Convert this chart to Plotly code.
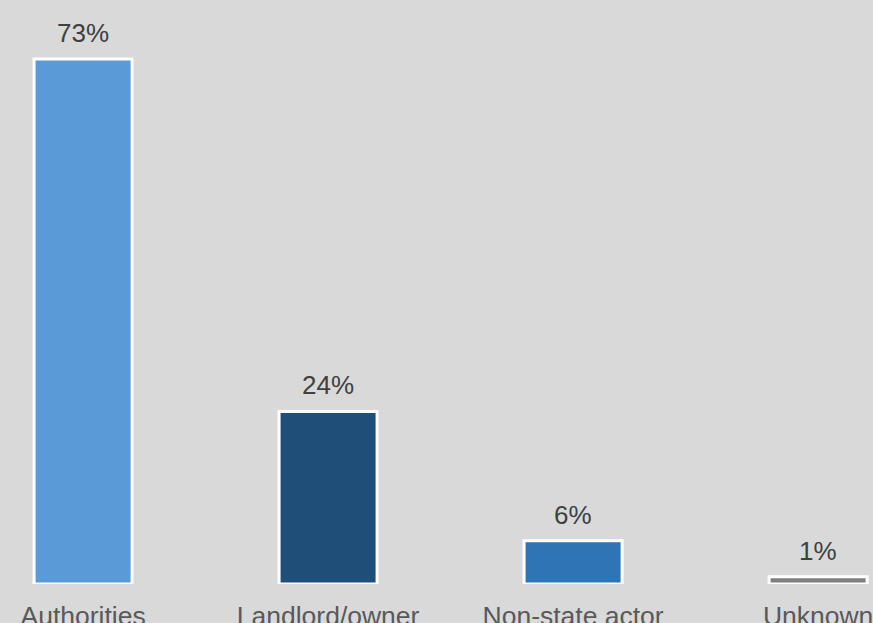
import plotly.graph_objects as go

categories = ["Authorities", "Landlord/owner", "Non-state actor", "Unknown"]
shares = [73, 24, 6, 1]
bar_colors = ["#5B9BD5", "#1F4E79", "#2E75B6", "#7F7F7F"]
value_labels = [f"{v}%" for v in shares]

fig = go.Figure(
    go.Bar(
        x=list(range(len(categories))),
        y=shares,
        width=0.4,
        marker=dict(color=bar_colors, line=dict(color="white", width=3)),
        hoverinfo="skip",
    )
)

for i, (v, lab) in enumerate(zip(shares, value_labels)):
    fig.add_annotation(
        x=i, y=v, text=lab, showarrow=False,
        yanchor="bottom", yshift=9,
        font=dict(family="Liberation Sans, Arial", size=26, color="#404040"),
    )

fig.update_layout(
    width=873, height=623,
    margin=dict(l=0, r=0, t=0, b=39),
    paper_bgcolor="#D9D9D9",
    plot_bgcolor="#D9D9D9",
    showlegend=False,
    bargap=0.6,
)
fig.update_xaxes(
    range=[-0.339, 3.224],
    tickmode="array",
    tickvals=list(range(len(categories))),
    ticktext=categories,
    tickfont=dict(family="Liberation Sans, Arial", size=26.5, color="#595959"),
    ticklabelstandoff=13,
    ticklabeloverflow="allow",
    showgrid=False, zeroline=False, showline=False,
    ticks="", automargin=False,
)
fig.update_yaxes(
    range=[0, 81.2],
    visible=False,
    showgrid=False, zeroline=False,
    automargin=False,
)

fig.write_html("out.html")
